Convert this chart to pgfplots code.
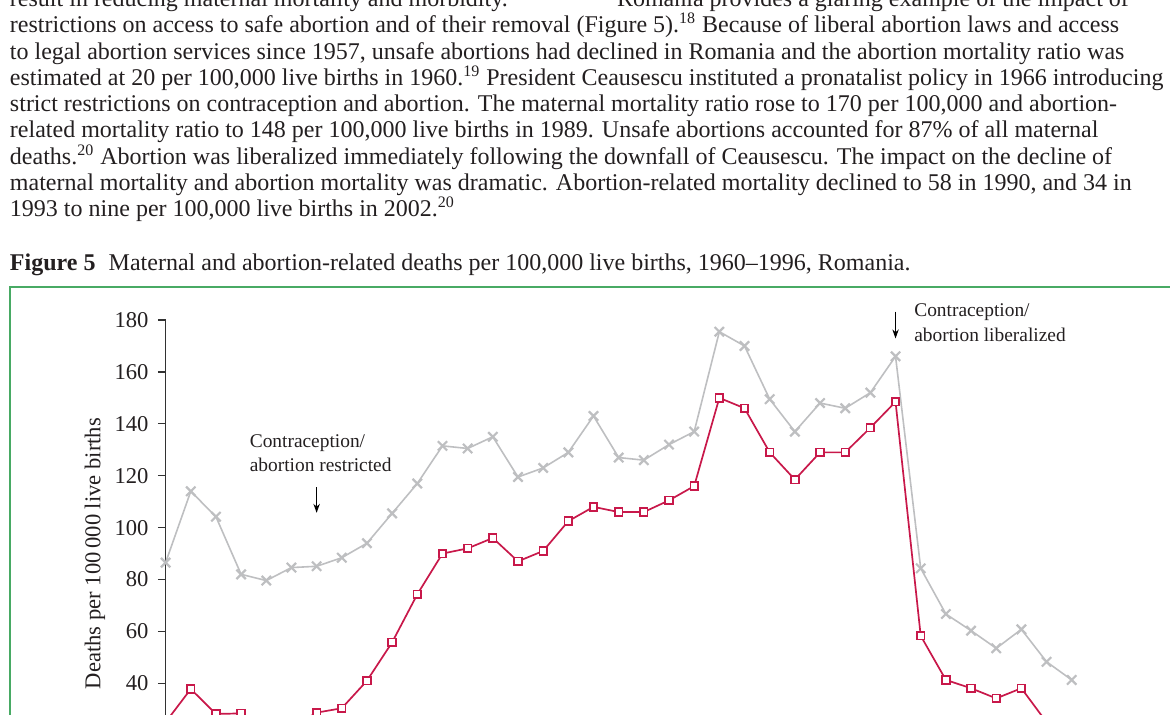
\documentclass[border=0pt]{standalone}
\usepackage{fontspec}
\setmainfont{Liberation Serif}
\usepackage{pgfplots}
\pgfplotsset{compat=1.18}
\usetikzlibrary{arrows.meta}
\definecolor{txt}{RGB}{35,31,32}
\definecolor{grayline}{RGB}{190,191,193}
\definecolor{crim}{RGB}{200,24,74}
\definecolor{framegreen}{RGB}{72,170,100}
\definecolor{axcol}{RGB}{50,50,50}
\newcommand\bodyfont{\fontsize{12}{14}\selectfont}
\newcommand\tickfont{\fontsize{11.3}{13}\selectfont}
\newcommand\annfont{\fontsize{9.7}{11}\selectfont}

\pgfplotstableread{
year maternal
1960 86.5
1961 114
1962 104.2
1963 82
1964 79.6
1965 84.6
1966 85.1
1967 88.4
1968 94
1969 105.5
1970 117
1971 131.5
1972 130.5
1973 135
1974 119.5
1975 123
1976 129
1977 143
1978 127
1979 126
1980 132
1981 137
1982 175.5
1983 170
1984 149.5
1985 137
1986 148
1987 146
1988 152
1989 166
1990 84.3
1991 66.7
1992 60.3
1993 53.5
1994 60.8
1995 48.3
1996 41.3
}\maternaltable

\pgfplotstableread{
year abortion
1960 25
1961 37.8
1962 28.2
1963 28.4
1964 22
1965 23
1966 28.7
1967 30.4
1968 41
1969 55.8
1970 74.3
1971 90
1972 92
1973 96
1974 87
1975 91
1976 102.5
1977 108
1978 106
1979 106
1980 110.5
1981 116
1982 150
1983 146
1984 129
1985 118.5
1986 129
1987 129
1988 138.5
1989 148.5
1990 58.3
1991 41.3
1992 38.1
1993 34.2
1994 38.1
1995 25
1996 22
}\abortiontable

\begin{document}
\begin{tikzpicture}
\useasboundingbox (0,0) rectangle (585pt,-357pt);
\clip (0,0) rectangle (585pt,-357pt);
\begin{scope}[x=0.5pt,y=-0.5pt, every node/.style={inner sep=0pt, outer sep=0pt, text=txt, font=\bodyfont, anchor=base west}]
\node at (10,6) {result in reducing maternal mortality and morbidity.};
\node at (617,6) {Romania provides a glaring example of the impact of};
\node at (10,32.5) {restrictions on access to safe abortion and of their removal (Figure 5).\textsuperscript{18} Because of liberal abortion laws and access};
\node at (10,59) {to legal abortion services since 1957, unsafe abortions had declined in Romania and the abortion mortality ratio was};
\node at (10,85.5) {estimated at 20 per 100,000 live births in 1960.\textsuperscript{19} President Ceausescu instituted a pronatalist policy in 1966 introducing};
\node at (10,111.5) {strict restrictions on contraception and abortion. The maternal mortality ratio rose to 170 per 100,000 and abortion-};
\node at (10,137.5) {related mortality ratio to 148 per 100,000 live births in 1989. Unsafe abortions accounted for 87\% of all maternal};
\node at (10,164) {deaths.\textsuperscript{20} Abortion was liberalized immediately following the downfall of Ceausescu. The impact on the decline of};
\node at (10,190.5) {maternal mortality and abortion mortality was dramatic. Abortion-related mortality declined to 58 in 1990, and 34 in};
\node at (10,216.5) {1993 to nine per 100,000 live births in 2002.\textsuperscript{20}};
\node at (10,270) {\textbf{Figure 5}\hspace{0.55em}Maternal and abortion-related deaths per 100,000 live births, 1960--1996, Romania.};
\draw[framegreen, line width=0.75pt] (10,287) rectangle (1200,800);
\end{scope}
\begin{axis}[
  at={(82.8pt,-393.55pt)}, anchor=south west,
  width=465.65pt, height=233.55pt, scale only axis,
  xmin=1960, xmax=1997, ymin=0, ymax=180,
  axis y line=left, axis x line=bottom,
  axis line style={-, draw=axcol, line width=0.65pt},
  tick align=outside, major tick length=3.85pt,
  tick style={axcol, line width=0.65pt},
  ytick={0,20,...,180},
  xtick={1960,1965,...,1995},
  /pgf/number format/assume math mode=true,
  /pgf/number format/1000 sep={},
  yticklabel style={font=\tickfont, text=txt, xshift=-1.2pt},
  xticklabel style={font=\tickfont, text=txt},
  ylabel={Deaths per 100\,000 live births},
  ylabel style={font=\tickfont, text=txt, at={(axis description cs:-0.0758,0.5)}, anchor=center},
  clip=false,
]
\addplot[grayline, line width=0.8pt, mark=x, mark size=3.3pt, mark options={line width=1.1pt}] table[x=year,y=maternal] {\maternaltable};
\addplot[crim, line width=0.85pt, mark=square*, mark size=1.9pt, mark options={fill=white, line width=0.85pt}] table[x=year,y=abortion] {\abortiontable};
\draw[-{Stealth[length=4.5pt,width=3.2pt]}, line width=0.6pt, black] (axis cs:1966,115.6) -- (axis cs:1966,105.7);
\draw[-{Stealth[length=4.5pt,width=3.2pt]}, line width=0.6pt, black] (axis cs:1989,183.2) -- (axis cs:1989,172.9);
\node[anchor=base west, inner sep=0pt, font=\annfont, text=txt] at (axis cs:1963.33,130.8) {Contraception/};
\node[anchor=base west, inner sep=0pt, font=\annfont, text=txt] at (axis cs:1963.33,121.8) {abortion restricted};
\node[anchor=base west, inner sep=0pt, font=\annfont, text=txt] at (axis cs:1989.73,181.3) {Contraception/};
\node[anchor=base west, inner sep=0pt, font=\annfont, text=txt] at (axis cs:1989.73,171.9) {abortion liberalized};
\end{axis}
\end{tikzpicture}
\end{document}
